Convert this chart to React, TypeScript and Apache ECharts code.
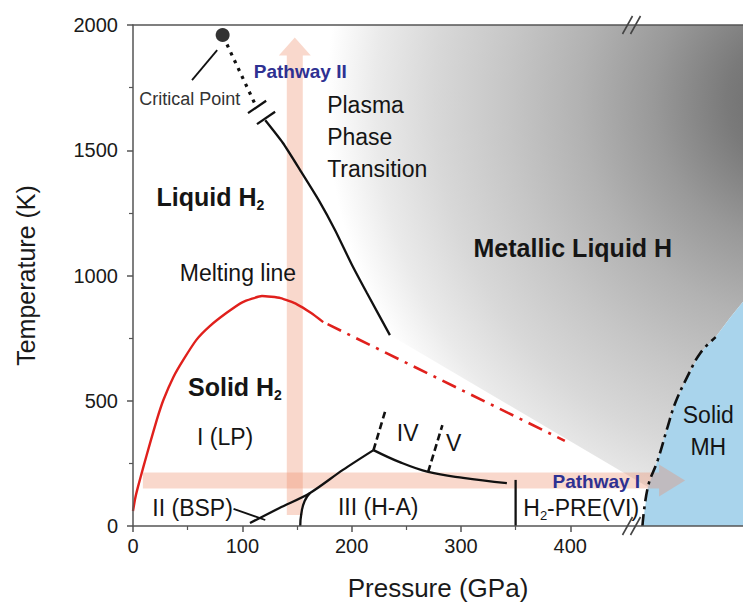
import React, { useEffect, useRef } from "react";
import * as echarts from "echarts";

// ---- axis ticks ----
const X_MAX = 558;
const xTicks = [0, 100, 200, 300, 400];
const xMinorTicks = [50, 150, 250, 350];
const yTicks = [0, 500, 1000, 1500, 2000];
const breakAt = [[456, 0], [456, 2000]];

// ---- phase lines (Pressure GPa, Temperature K) ----
const meltingSolid = [
  [0, 60], [2, 110], [4.6, 157], [9.5, 236], [15.6, 331], [21.7, 423], [27.8, 503], [37, 595], [46, 663],
  [58, 743], [70, 797], [86, 852], [100, 893], [118, 918], [135, 910], [150, 885], [163, 850], [174, 814],
];
const meltingDashed = [[178, 806], [395, 340]];
const criticalPoint = [[82, 1960]];
const criticalLeader = [[54, 1780], [77, 1900]];
const plasmaDotted = [[86, 1922], [111, 1690]];
const plasmaBreaks = [[113.5, 1673], [121.7, 1629]];
const plasmaSolid = [[121, 1620], [137, 1530], [153, 1420], [170, 1300], [185, 1180], [200, 1045], [214, 930], [235, 762]];
const boundaryIIxIII = [[107, 12], [134, 72], [162, 132], [192, 224], [220, 303]];
const boundaryIxII = [[153, 0], [154, 50], [157, 100], [162, 132]];
const bspLeader = [[92, 68], [121, 24]];
const boundaryIIIxV = [[220, 303], [244, 255], [270, 216], [302, 192], [342, 171]];
const boundaryIV = [[220, 303], [231, 463]];
const boundaryV = [[270, 216], [283, 403]];
const boundaryVI = [[350, 0], [350, 184]];
const metalBoundary = [
  [466, 0], [471, 156], [480, 263], [489, 395], [496, 491], [507, 595], [519, 691], [533, 754],
];
const solidMHRegion = [...metalBoundary, [546, 830], [558, 895], [558, 0]];
const metallicRegion = [
  [100, 2000], [121, 1620], [153, 1420], [185, 1180], [214, 930], [235, 762],
  [471, 156], [480, 263], [489, 395], [496, 491], [507, 595], [519, 691], [533, 754],
  [546, 830], [558, 895], [558, 2000],
];
const gradientCenter = [610, 1700];

// ---- pathways ----
const pathwayI = [[9, 182], [505, 182]];
const pathwayII = [[148, 44], [148, 1950]];

// ---- annotations ----
const annotations = [
  { text: "Critical Point", at: [52, 1705], kind: "small", align: "center" },
  { text: "Pathway II", at: [153, 1816], kind: "path", align: "center" },
  { text: "Plasma", at: [177.6, 1681], kind: "phase", align: "left" },
  { text: "Phase", at: [177.6, 1553], kind: "phase", align: "left" },
  { text: "Transition", at: [177.6, 1425], kind: "phase", align: "left" },
  { text: "{m|Liquid H}{s|2}", at: [21.5, 1313], kind: "region", align: "left" },
  { text: "Metallic Liquid H", at: [402.3, 1110], kind: "region", align: "center" },
  { text: "Melting line", at: [96, 1010], kind: "phase", align: "center" },
  { text: "{m|Solid H}{s|2}", at: [50.3, 555], kind: "region", align: "left" },
  { text: "I (LP)", at: [84.2, 355], kind: "phase", align: "center" },
  { text: "IV", at: [251.3, 371], kind: "phase", align: "center" },
  { text: "V", at: [293.4, 331], kind: "phase", align: "center" },
  { text: "II (BSP)", at: [54.5, 72], kind: "phase", align: "center" },
  { text: "III (H-A)", at: [224.3, 76], kind: "phase", align: "center" },
  { text: "{p|H}{ps|2}{p|-PRE(VI)}", at: [357, 72], kind: "phase", align: "left" },
  { text: "Pathway I", at: [423.8, 176], kind: "path", align: "center" },
  { text: "Solid", at: [526.3, 443], kind: "phase", align: "center" },
  { text: "MH", at: [526.3, 315], kind: "phase", align: "center" },
];

const FONT = "'Liberation Sans', Arial, Helvetica, sans-serif";
const kindStyle: Record<string, any> = {
  small: { fontSize: 18, fontWeight: "normal", fill: "#333" },
  path: { fontSize: 19, fontWeight: "bold", fill: "#2e3192" },
  phase: { fontSize: 23, fontWeight: "normal", fill: "#151515" },
  region: { fontSize: 25, fontWeight: "bold", fill: "#151515" },
};
const rich = {
  m: { fontSize: 25, fontWeight: "bold", fontFamily: FONT, fill: "#151515", lineHeight: 30 },
  s: { fontSize: 14, fontWeight: "bold", fontFamily: FONT, fill: "#151515", lineHeight: 14, verticalAlign: "bottom" },
  p: { fontSize: 23, fontFamily: FONT, fill: "#151515", lineHeight: 28 },
  ps: { fontSize: 13, fontFamily: FONT, fill: "#151515", lineHeight: 13, verticalAlign: "bottom" },
};

const lineSeries = (data: number[][], color: string, width: number, type: any, smooth: any = false, z = 6) => ({
  type: "line",
  data,
  showSymbol: false,
  symbol: "none",
  smooth,
  silent: true,
  z,
  lineStyle: { color, width, type, cap: "butt" },
});

export default function App() {
  const ref = useRef<HTMLDivElement>(null);
  useEffect(() => {
    const chart = echarts.init(ref.current!, null, { renderer: "svg" });
    const axisColor = "#555";
    const option: any = {
      animation: false,
      backgroundColor: "#fff",
      grid: { left: 133, right: 0, top: 25, bottom: 80 },
      xAxis: [
        {
          type: "value", min: 0, max: X_MAX, interval: 50, position: "bottom", z: 10,
          name: "Pressure (GPa)", nameLocation: "middle", nameGap: 49,
          nameTextStyle: { fontSize: 26, fontFamily: FONT, color: "#1a1a1a" },
          axisLine: { show: true, lineStyle: { color: axisColor, width: 1.5 } },
          axisTick: { show: true, customValues: xTicks, length: 6, lineStyle: { color: axisColor, width: 1.5 } },
          axisLabel: { customValues: xTicks, fontSize: 20, fontFamily: FONT, color: "#1a1a1a", margin: 10, formatter: (v: number) => String(v) },
          splitLine: { show: false },
        },
        {
          type: "value", min: 0, max: X_MAX, interval: 50, position: "bottom", z: 10,
          axisLine: { show: false },
          axisTick: { show: true, customValues: xMinorTicks, length: 4, lineStyle: { color: axisColor, width: 1.2 } },
          axisLabel: { show: false },
          splitLine: { show: false },
        },
        {
          type: "value", min: 0, max: X_MAX, position: "top", z: 10,
          axisLine: { show: true, lineStyle: { color: axisColor, width: 1.5 } },
          axisTick: { show: false }, axisLabel: { show: false }, splitLine: { show: false },
        },
      ],
      yAxis: [
        {
          type: "value", min: 0, max: 2000, interval: 500, z: 10,
          name: "Temperature (K)", nameLocation: "middle", nameGap: 95, nameRotate: 90,
          nameTextStyle: { fontSize: 25, fontFamily: FONT, color: "#1a1a1a" },
          axisLine: { show: true, lineStyle: { color: axisColor, width: 1.5 } },
          axisTick: { show: true, length: 6, lineStyle: { color: axisColor, width: 1.5 } },
          minorTick: { show: true, splitNumber: 2, length: 4, lineStyle: { color: axisColor, width: 1.2 } },
          axisLabel: { fontSize: 20, fontFamily: FONT, color: "#1a1a1a", margin: 15, formatter: (v: number) => String(v) },
          splitLine: { show: false },
        },
      ],
      series: [
        {
          type: "custom", silent: true, z: 1, data: [[0, 0]],
          renderItem: (_p: any, api: any) => {
            const pts = metallicRegion.map((p) => api.coord(p));
            const c = api.coord(gradientCenter);
            const w = api.coord([X_MAX, 0])[0] - api.coord([0, 0])[0];
            const r = w * 0.8;
            return {
              type: "polygon",
              shape: { points: pts },
              style: {
                fill: new echarts.graphic.RadialGradient(c[0], c[1], r, [
                  { offset: 0, color: "#666666" },
                  { offset: 0.15, color: "#7a7a7a" },
                  { offset: 0.3, color: "#999999" },
                  { offset: 0.45, color: "#b2b2b2" },
                  { offset: 0.6, color: "#c6c6c6" },
                  { offset: 0.75, color: "#d8d8d8" },
                  { offset: 0.87, color: "#eaeaea" },
                  { offset: 0.97, color: "#ffffff" },
                ], true),
              },
            };
          },
        },
        {
          type: "custom", silent: true, z: 2, data: [[0, 0]],
          renderItem: (_p: any, api: any) => ({
            type: "polygon",
            shape: { points: solidMHRegion.map((p) => api.coord(p)) },
            style: { fill: "#a9d4ec" },
          }),
        },
        {
          type: "custom", silent: true, z: 3, data: [pathwayI[0], pathwayII[0]],
          renderItem: (params: any, api: any) => {
            const arr = params.dataIndex === 0 ? pathwayI : pathwayII;
            const p0 = api.coord(arr[0]);
            const p1 = api.coord(arr[1]);
            const dx = p1[0] - p0[0], dy = p1[1] - p0[1];
            const len = Math.hypot(dx, dy);
            const d = [dx / len, dy / len];
            const n = [-d[1], d[0]];
            const w = 8;
            const L = params.dataIndex === 0 ? 26 : 18;
            const H = 16;
            const b = [p1[0] - d[0] * L, p1[1] - d[1] * L];
            const pt = (o: number[], k: number) => [o[0] + n[0] * k, o[1] + n[1] * k];
            return {
              type: "polygon",
              shape: { points: [pt(p0, w), pt(b, w), pt(b, H), p1, pt(b, -H), pt(b, -w), pt(p0, -w)] },
              style: { fill: "rgba(238,140,105,0.34)" },
            };
          },
        },
        lineSeries(meltingSolid, "#e0201c", 2.4, "solid", 0.15),
        lineSeries(meltingDashed, "#e0201c", 2.6, [15, 7, 3, 7]),
        lineSeries(plasmaDotted, "#111", 3.2, [3.2, 5.5]),
        lineSeries(plasmaSolid, "#111", 2.3, "solid", 0.2),
        lineSeries(criticalLeader, "#111", 1.8, "solid"),
        lineSeries(boundaryIIxIII, "#111", 2.3, "solid", 0.3),
        lineSeries(boundaryIxII, "#111", 2.3, "solid", 0.5),
        lineSeries(bspLeader, "#111", 1.8, "solid"),
        lineSeries(boundaryIIIxV, "#111", 2.3, "solid", 0.4),
        lineSeries(boundaryIV, "#111", 2.6, [7, 4]),
        lineSeries(boundaryV, "#111", 2.6, [7, 4]),
        lineSeries(boundaryVI, "#111", 2.3, "solid"),
        lineSeries(metalBoundary, "#111", 2.6, [12, 5, 3, 5], 0.4),
        {
          type: "custom", silent: true, z: 7, data: plasmaBreaks,
          renderItem: (_p: any, api: any) => {
            const c = api.coord([api.value(0), api.value(1)]);
            const d = [0.825, -0.565];
            return {
              type: "line",
              shape: { x1: c[0] - d[0] * 11, y1: c[1] - d[1] * 11, x2: c[0] + d[0] * 11, y2: c[1] + d[1] * 11 },
              style: { stroke: "#111", lineWidth: 2.3 },
            };
          },
        },
        {
          type: "scatter", data: criticalPoint, symbolSize: 14, silent: true, z: 8,
          itemStyle: { color: "#000" },
        },
        {
          type: "custom", silent: true, z: 12, data: breakAt,
          renderItem: (_p: any, api: any) => {
            const c = api.coord([api.value(0), api.value(1)]);
            const mk = (ox: number) => ({
              type: "line",
              shape: { x1: c[0] + ox - 5, y1: c[1] + 9, x2: c[0] + ox + 5, y2: c[1] - 9 },
              style: { stroke: "#444", lineWidth: 1.6 },
            });
            return { type: "group", children: [mk(-4), mk(4)] };
          },
        },
        {
          type: "custom", silent: true, z: 20, data: annotations.map((a) => a.at),
          renderItem: (params: any, api: any) => {
            const a = annotations[params.dataIndex];
            const s = kindStyle[a.kind];
            const c = api.coord([api.value(0), api.value(1)]);
            return {
              type: "text",
              x: c[0],
              y: c[1],
              style: {
                text: a.text,
                fontSize: s.fontSize,
                fontWeight: s.fontWeight,
                fontFamily: FONT,
                fill: s.fill,
                align: a.align,
                verticalAlign: "middle",
                rich,
              },
            };
          },
        },
      ],
    };
    chart.setOption(option);
    return () => chart.dispose();
  }, []);
  return (
    <div
      ref={ref}
      style={{ position: "fixed", left: 0, top: 0, width: 743, height: 606, background: "#fff" }}
    />
  );
}
